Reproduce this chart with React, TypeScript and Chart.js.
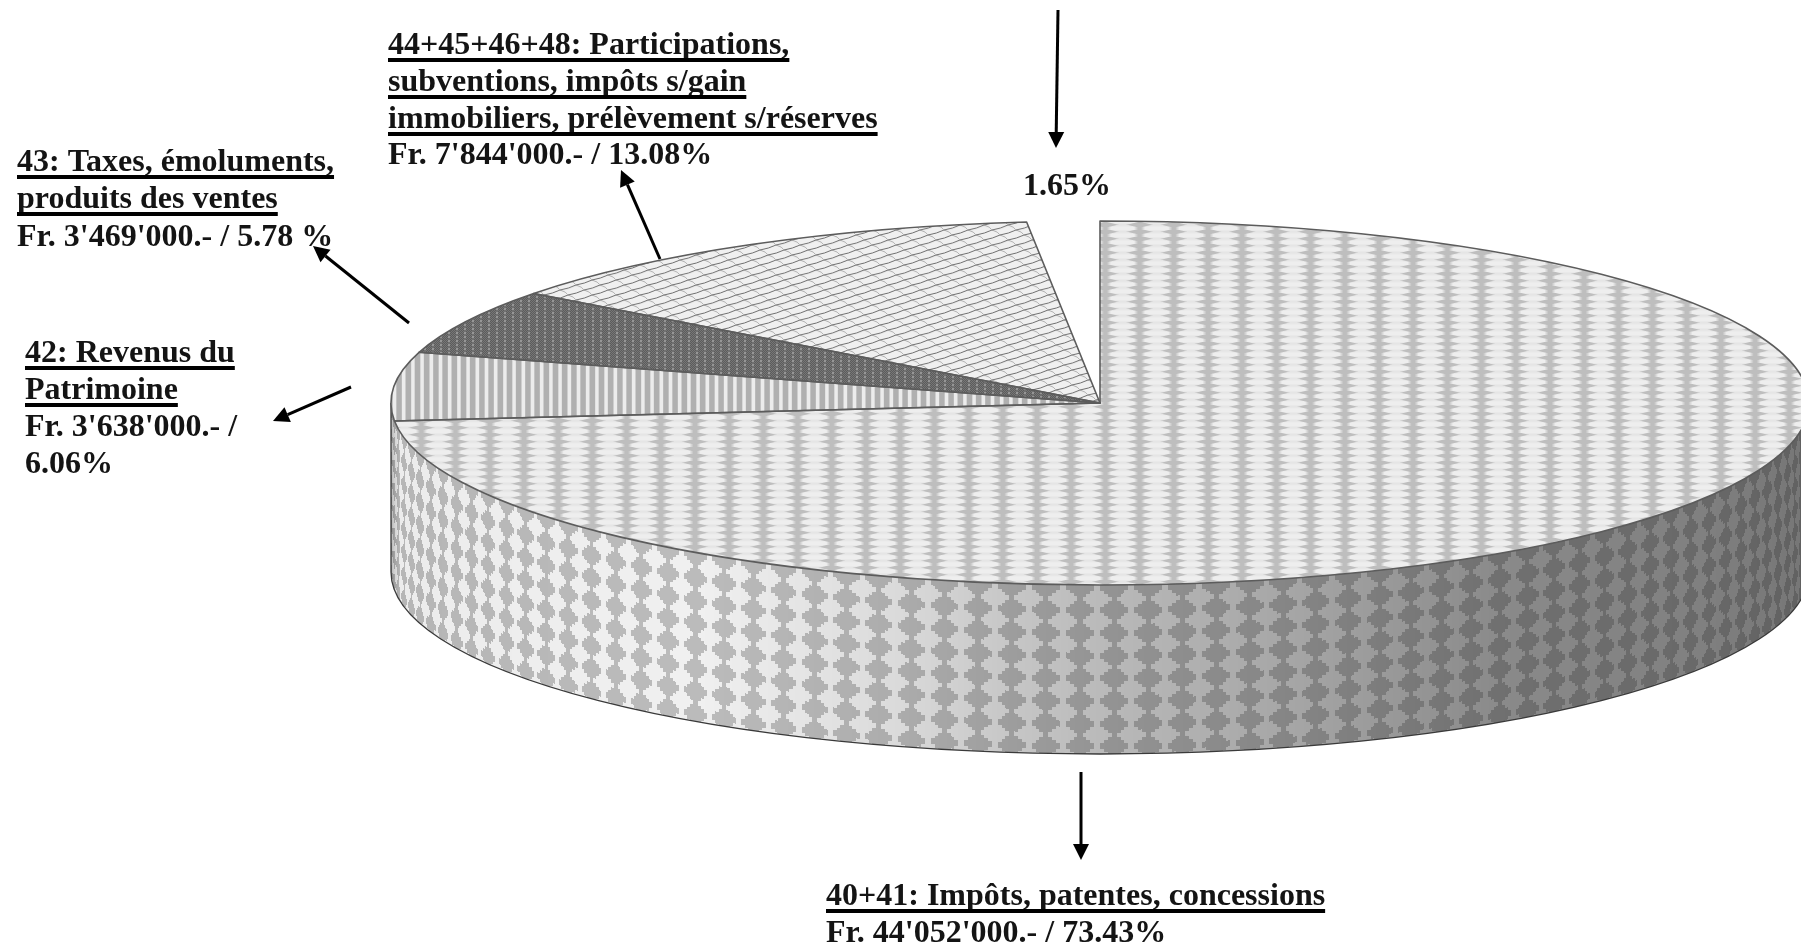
import React, { useEffect, useRef } from "react";
import { Chart, registerables } from "chart.js";

Chart.register(...registerables);

// ---- data ----
const categories = [
  "40+41: Impôts, patentes, concessions",
  "42: Revenus du Patrimoine",
  "43: Taxes, émoluments, produits des ventes",
  "44+45+46+48: Participations, subventions, impôts s/gain immobiliers, prélèvement s/réserves",
  "Autres",
];
const amounts = [44052000, 3638000, 3469000, 7844000, 990000];

const label40 = ["40+41: Impôts, patentes, concessions", "Fr. 44'052'000.- / 73.43%"];
const label42 = ["42: Revenus du", "Patrimoine", "Fr. 3'638'000.- /", "6.06%"];
const label43 = ["43: Taxes, émoluments,", "produits des ventes", "Fr. 3'469'000.- / 5.78 %"];
const label44 = [
  "44+45+46+48: Participations,",
  "subventions, impôts s/gain",
  "immobiliers, prélèvement s/réserves",
  "Fr. 7'844'000.- / 13.08%",
];
const labelOther = ["1.65%"];

// ---- layout ----
const WIDTH = 1801;
const HEIGHT = 943;
const CX = 1100;
const CY = 403;
const RX = 709;
const RY = 182;
const WALL = 169;
const FONT = 'bold 32px "Liberation Serif"';
const INK = "#141414";

const textBlocks = [
  { lines: label44, x: 388, baselines: [54, 91, 128, 164], underlined: 3 },
  { lines: label43, x: 17, baselines: [171, 208, 246], underlined: 2 },
  { lines: label42, x: 25, baselines: [362, 399, 436, 473], underlined: 2 },
  { lines: label40, x: 826, baselines: [905, 942], underlined: 1 },
  { lines: labelOther, x: 1023, baselines: [195], underlined: 0 },
];

const arrows = [
  [1058, 10, 1056, 148],
  [660, 259, 621, 170],
  [409, 323, 313, 246],
  [351, 387, 273, 421],
  [1081, 772, 1081, 860],
];

function tile(w: number, h: number, f: (x: number, y: number) => number) {
  const c = document.createElement("canvas");
  c.width = w;
  c.height = h;
  const g = c.getContext("2d")!;
  const img = g.createImageData(w, h);
  for (let y = 0; y < h; y++) {
    for (let x = 0; x < w; x++) {
      const v = f(x, y);
      const i = (y * w + x) * 4;
      img.data[i] = img.data[i + 1] = img.data[i + 2] = v;
      img.data[i + 3] = 255;
    }
  }
  g.putImageData(img, 0, 0);
  return c;
}

const wrap = (a: number, p: number) => a - Math.floor(a / p) * p;
const clamp = (a: number, lo: number, hi: number) => Math.max(lo, Math.min(hi, a));

function weaveTile() {
  return tile(171, 7, (x, y) => {
    const d = Math.abs(wrap(x + 0.5 - 11 + 17.1, 34.2) - 17.1);
    const r = Math.abs(wrap(y + 0.5 - 0.7 + 3.5, 7) - 3.5);
    const w = clamp(1 - r / 2.2, 0, 1);
    const hw = 5.5 + 9 * w;
    const t = clamp((hw - d) / 4, 0, 1);
    return 238 - 48 * t - 10 * w * (1 - t);
  });
}

function stripeTile() {
  return tile(46, 1, (x) => {
    const d = Math.abs(wrap(x + 0.5 - 3.5 + 4.6, 9.2) - 4.6);
    const t = clamp((2.8 - d) / 1.2 + 0.5, 0, 1);
    return 236 - 60 * t;
  });
}

function darkTile() {
  return tile(8, 4, (x, y) => {
    if (x === 0 || x === 1) return y < 2 ? 150 : 112;
    return (x + y) % 2 === 0 ? 118 : 92;
  });
}

function latticeTile() {
  const W = 24;
  const H = 15;
  const c = document.createElement("canvas");
  c.width = W;
  c.height = H;
  const g = c.getContext("2d")!;
  g.fillStyle = "#f0f0f0";
  g.fillRect(0, 0, W, H);
  g.lineWidth = 1;
  const ax = 16;
  const ay = -5;
  const bx = 8;
  const by = 5;
  for (let m = -4; m <= 4; m++) {
    for (let n = -4; n <= 6; n++) {
      const px = m * ax + n * bx;
      const py = m * ay + n * by;
      g.strokeStyle = "#b0b0b0";
      g.beginPath();
      g.moveTo(px, py);
      g.quadraticCurveTo(px + bx * 0.8, py + by * 0.35, px + bx, py + by);
      g.stroke();
      g.strokeStyle = "#707070";
      g.beginPath();
      g.moveTo(px, py);
      g.quadraticCurveTo(px + ax * 0.55, py + ay * 0.3, px + ax, py + ay);
      g.stroke();
    }
  }
  return c;
}

// horizontal shading of the side wall
const shadeStops: [number, number][] = [
  [390, 170],
  [394, 205],
  [400, 236],
  [700, 240],
  [900, 218],
  [1000, 200],
  [1100, 186],
  [1300, 165],
  [1500, 138],
  [1700, 128],
  [1810, 118],
];

function shade(x: number) {
  for (let i = 1; i < shadeStops.length; i++) {
    if (x <= shadeStops[i][0]) {
      const [x0, v0] = shadeStops[i - 1];
      const [x1, v1] = shadeStops[i];
      return v0 + (v1 - v0) * clamp((x - x0) / (x1 - x0), 0, 1);
    }
  }
  return 118;
}

function wallImage() {
  const x0 = CX - RX - 1;
  const x1 = Math.min(WIDTH, CX + RX + 1);
  const y0 = CY;
  const y1 = Math.min(HEIGHT, CY + RY + WALL + 2);
  const w = x1 - x0;
  const h = y1 - y0;
  const c = document.createElement("canvas");
  c.width = w;
  c.height = h;
  const g = c.getContext("2d")!;
  const img = g.createImageData(w, h);
  for (let px = 0; px < w; px++) {
    const x = x0 + px + 0.5;
    const t = (x - CX) / RX;
    if (Math.abs(t) > 1) continue;
    const s = Math.asin(t) * RX;
    const yTop = CY + RY * Math.sqrt(1 - t * t);
    const base = shade(x);
    const ratio = 0.77 + 0.05 * clamp((x - 400) / 1400, 0, 1);
    for (let py = 0; py < h; py++) {
      const y = y0 + py + 0.5;
      const v = y - yTop;
      if (v < -1.5 || v > WALL) continue;
      const ds = wrap(s + 20 + 17.1, 34.2) - 17.1;
      const dvRaw = wrap(v - 2.6 + 11.35, 22.7) - 11.35;
      const dv = (Math.floor(Math.abs(dvRaw) / 3) + 0.5) * 3;
      const inside = Math.abs(ds) / 16 + dv / 12.5 < 1;
      const val = inside ? base * ratio : base;
      const i = (py * w + px) * 4;
      img.data[i] = img.data[i + 1] = img.data[i + 2] = val;
      img.data[i + 3] = 255;
    }
  }
  g.putImageData(img, 0, 0);
  return { c, x0, y0 };
}

function drawArrow(ctx: CanvasRenderingContext2D, a: number[]) {
  const [x0, y0, x1, y1] = a;
  const ang = Math.atan2(y1 - y0, x1 - x0);
  const len = 16;
  const half = 8;
  const bx = x1 - Math.cos(ang) * len;
  const by = y1 - Math.sin(ang) * len;
  ctx.strokeStyle = "#000";
  ctx.fillStyle = "#000";
  ctx.lineWidth = 3;
  ctx.beginPath();
  ctx.moveTo(x0, y0);
  ctx.lineTo(bx, by);
  ctx.stroke();
  ctx.beginPath();
  ctx.moveTo(x1, y1);
  ctx.lineTo(bx - Math.sin(ang) * half, by + Math.cos(ang) * half);
  ctx.lineTo(bx + Math.sin(ang) * half, by - Math.cos(ang) * half);
  ctx.closePath();
  ctx.fill();
}

export default function App() {
  const ref = useRef<HTMLCanvasElement | null>(null);

  useEffect(() => {
    const canvas = ref.current!;
    const ctx0 = canvas.getContext("2d")!;
    const patterns = [
      ctx0.createPattern(weaveTile(), "repeat")!,
      ctx0.createPattern(stripeTile(), "repeat")!,
      ctx0.createPattern(darkTile(), "repeat")!,
      ctx0.createPattern(latticeTile(), "repeat")!,
    ];
    const wall = wallImage();

    const pie3d = {
      id: "pie3d",
      beforeDatasetsDraw(chart: any) {
        const ctx: CanvasRenderingContext2D = chart.ctx;
        const arc = chart.getDatasetMeta(0).data[0];
        ctx.drawImage(wall.c, wall.x0, wall.y0);
        ctx.save();
        ctx.strokeStyle = "#3a3a3a";
        ctx.lineWidth = 1.3;
        ctx.beginPath();
        ctx.moveTo(CX - RX, CY);
        ctx.lineTo(CX - RX, CY + WALL);
        ctx.ellipse(CX, CY + WALL, RX, RY, 0, Math.PI, 0, true);
        ctx.stroke();
        ctx.restore();
        ctx.save();
        ctx.translate(CX, CY);
        ctx.scale(RX / arc.outerRadius, RY / arc.outerRadius);
        ctx.translate(-arc.x, -arc.y);
        const inv = ctx.getTransform().inverse();
        patterns.forEach((p) => p.setTransform(inv));
      },
      afterDatasetsDraw(chart: any) {
        const ctx: CanvasRenderingContext2D = chart.ctx;
        ctx.restore();
        const arcs = chart.getDatasetMeta(0).data;
        ctx.save();
        ctx.strokeStyle = "#5c5c5c";
        ctx.lineWidth = 1.6;
        ctx.lineJoin = "round";
        arcs.slice(0, 4).forEach((a: any) => {
          ctx.beginPath();
          ctx.moveTo(CX, CY);
          ctx.ellipse(CX, CY, RX, RY, 0, a.startAngle, a.endAngle);
          ctx.closePath();
          ctx.stroke();
        });
        ctx.restore();
      },
      afterDraw(chart: any) {
        const ctx: CanvasRenderingContext2D = chart.ctx;
        ctx.save();
        arrows.forEach((a) => drawArrow(ctx, a));
        ctx.font = FONT;
        ctx.textAlign = "left";
        ctx.textBaseline = "alphabetic";
        textBlocks.forEach((b) => {
          b.lines.forEach((line, i) => {
            ctx.fillStyle = INK;
            ctx.fillText(line, b.x, b.baselines[i]);
            if (i < b.underlined) {
              ctx.fillStyle = "#000";
              ctx.fillRect(b.x, b.baselines[i] + 4, ctx.measureText(line).width, 4);
            }
          });
        });
        ctx.restore();
      },
    };

    const chart = new Chart(canvas, {
      type: "pie",
      data: {
        labels: categories,
        datasets: [
          {
            data: amounts,
            backgroundColor: [...patterns, "#ffffff"],
            borderWidth: 0,
            clip: false,
          } as any,
        ],
      },
      options: {
        animation: false,
        responsive: false,
        devicePixelRatio: 1,
        events: [],
        rotation: 0,
        layout: { padding: 0 },
        plugins: { legend: { display: false }, tooltip: { enabled: false }, title: { display: false } },
      },
      plugins: [pie3d],
    } as any);
    return () => chart.destroy();
  }, []);

  return (
    <div style={{ position: "fixed", left: 0, top: 0, width: WIDTH, height: HEIGHT, overflow: "hidden", background: "#fff" }}>
      <canvas ref={ref} width={WIDTH} height={HEIGHT} style={{ display: "block" }} />
    </div>
  );
}
